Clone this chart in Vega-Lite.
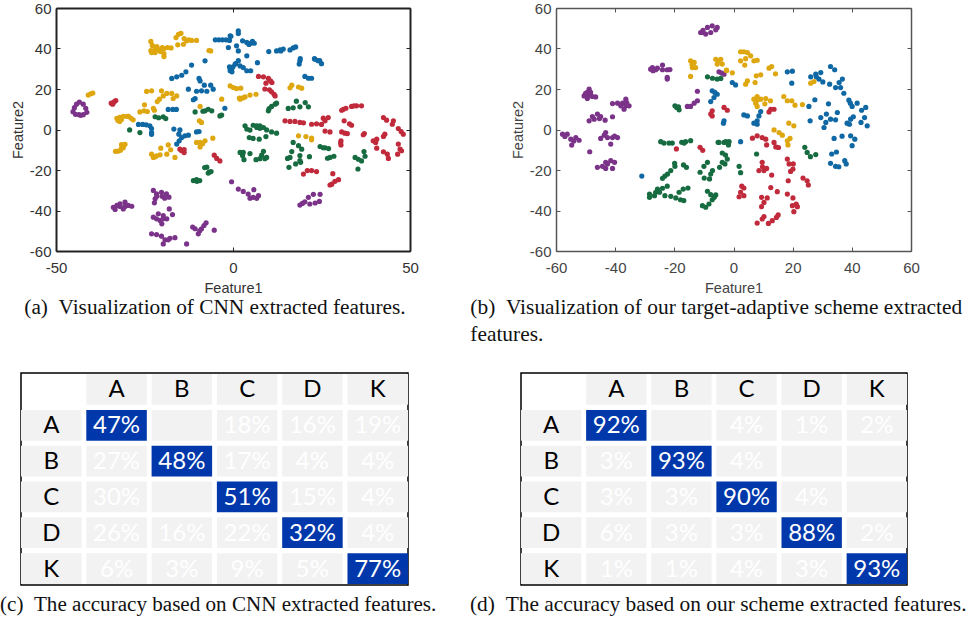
{"$schema":"https://vega.github.io/schema/vega-lite/v6.json","padding":{"left":-1,"top":1,"right":0,"bottom":0},"background":"white","datasets":{"pa":[
{"x":-43.4,"y":13.5,"k":"P"},{"x":-42.3,"y":12.5,"k":"P"},{"x":-41.6,"y":10.5,"k":"P"},{"x":-41.3,"y":8.5,"k":"P"},{"x":-42.3,"y":7.3,"k":"P"},{"x":-43.5,"y":7.3,"k":"P"},{"x":-44.5,"y":7.5,"k":"P"},{"x":-45.2,"y":8.8,"k":"P"},{"x":-44.8,"y":10.8,"k":"P"},{"x":-44.2,"y":12.5,"k":"P"},{"x":-43,"y":7,"k":"P"},
{"x":-40.9,"y":17,"k":"Y"},{"x":-40.2,"y":17.6,"k":"Y"},{"x":-39.6,"y":18,"k":"Y"},
{"x":-34.4,"y":13,"k":"R"},{"x":-33.9,"y":13,"k":"R"},{"x":-33.5,"y":13.8,"k":"R"},{"x":-33.1,"y":14.3,"k":"R"},{"x":-34,"y":12.5,"k":"R"},
{"x":-32.5,"y":4.5,"k":"Y"},{"x":-32.8,"y":5.5,"k":"Y"},{"x":-32,"y":6,"k":"Y"},{"x":-31,"y":6.5,"k":"Y"},{"x":-30,"y":6.5,"k":"Y"},{"x":-29.5,"y":6.5,"k":"Y"},{"x":-28.8,"y":5.5,"k":"Y"},{"x":-28.2,"y":4.8,"k":"Y"},{"x":-32,"y":4,"k":"Y"},{"x":-31.5,"y":5,"k":"Y"},
{"x":-29.2,"y":-0.2,"k":"G"},{"x":-26.3,"y":-1.5,"k":"G"},
{"x":-32.5,"y":-10.7,"k":"Y"},{"x":-31.8,"y":-10.3,"k":"Y"},{"x":-31.5,"y":-9.3,"k":"Y"},{"x":-31,"y":-8,"k":"Y"},{"x":-30.5,"y":-7.3,"k":"Y"},{"x":-31.5,"y":-7.5,"k":"Y"},{"x":-33.2,"y":-10.8,"k":"Y"},{"x":-31,"y":-9,"k":"Y"},
{"x":-23.2,"y":43.5,"k":"Y"},{"x":-22.8,"y":41.5,"k":"Y"},{"x":-22,"y":40,"k":"Y"},{"x":-23.2,"y":39,"k":"Y"},{"x":-23,"y":38,"k":"Y"},{"x":-22,"y":38,"k":"Y"},{"x":-21,"y":39.5,"k":"Y"},{"x":-20,"y":40.5,"k":"Y"},{"x":-20.5,"y":38.5,"k":"Y"},{"x":-19.5,"y":40,"k":"Y"},{"x":-18.5,"y":40.5,"k":"Y"},{"x":-17.5,"y":40.3,"k":"Y"},{"x":-19.5,"y":37.5,"k":"Y"},{"x":-19.5,"y":36,"k":"Y"},{"x":-21.5,"y":41,"k":"Y"},{"x":-22,"y":39,"k":"Y"},
{"x":-15.4,"y":47,"k":"Y"},{"x":-16.1,"y":45.4,"k":"Y"},{"x":-14.7,"y":47.5,"k":"Y"},{"x":-15.6,"y":41.8,"k":"Y"},{"x":-13.8,"y":44.9,"k":"Y"},{"x":-13.1,"y":43.8,"k":"Y"},{"x":-14,"y":42.1,"k":"Y"},{"x":-11.7,"y":44,"k":"Y"},{"x":-10.3,"y":44,"k":"Y"},{"x":-12.5,"y":44.3,"k":"Y"},{"x":-6.3,"y":38.8,"k":"Y"},{"x":-6.8,"y":39,"k":"Y"},
{"x":-5,"y":44.3,"k":"B"},{"x":-4,"y":44.3,"k":"B"},{"x":-3,"y":44.3,"k":"B"},{"x":-2,"y":44.3,"k":"B"},{"x":-1,"y":44,"k":"B"},{"x":-0.8,"y":46.3,"k":"B"},{"x":-1.3,"y":40.5,"k":"B"},{"x":1.5,"y":48.7,"k":"B"},{"x":1.5,"y":47.4,"k":"B"},{"x":-0.6,"y":46,"k":"B"},{"x":2.7,"y":43.8,"k":"B"},{"x":3.9,"y":43,"k":"B"},{"x":5,"y":42.6,"k":"B"},{"x":6,"y":42.6,"k":"B"},{"x":5.5,"y":43.5,"k":"B"},{"x":4.5,"y":42,"k":"B"},{"x":1,"y":41.3,"k":"B"},{"x":1.5,"y":38.8,"k":"B"},{"x":3.9,"y":36.4,"k":"B"},{"x":6.9,"y":33,"k":"B"},
{"x":-0.8,"y":30,"k":"B"},{"x":0,"y":31,"k":"B"},{"x":0.8,"y":32.5,"k":"B"},{"x":1.5,"y":34,"k":"B"},{"x":-0.8,"y":29,"k":"B"},{"x":2,"y":31.4,"k":"B"},{"x":2.9,"y":30.6,"k":"B"},{"x":3.9,"y":29,"k":"B"},{"x":5,"y":29,"k":"B"},{"x":-0.4,"y":29.8,"k":"B"},{"x":0.6,"y":32.3,"k":"B"},{"x":-0.3,"y":28.5,"k":"B"},{"x":-1,"y":31,"k":"B"},
{"x":10.1,"y":38.5,"k":"B"},{"x":12.3,"y":38.8,"k":"B"},{"x":13.3,"y":39.3,"k":"B"},{"x":14.2,"y":39.7,"k":"B"},{"x":13.5,"y":38.8,"k":"B"},{"x":16.1,"y":39.3,"k":"B"},{"x":17,"y":40.3,"k":"B"},{"x":17.7,"y":40.8,"k":"B"},{"x":18.9,"y":33.9,"k":"B"},{"x":18.7,"y":32.3,"k":"B"},{"x":19,"y":35,"k":"B"},{"x":23.2,"y":34.7,"k":"B"},{"x":24.5,"y":34,"k":"B"},{"x":25,"y":32.5,"k":"B"},{"x":24,"y":34,"k":"B"},{"x":23,"y":35,"k":"B"},{"x":20.3,"y":26.2,"k":"B"},{"x":21.3,"y":25.3,"k":"B"},{"x":22.2,"y":25.3,"k":"B"},
{"x":7.2,"y":26.2,"k":"R"},{"x":8.6,"y":26,"k":"R"},{"x":10,"y":25.2,"k":"R"},{"x":10.6,"y":24,"k":"R"},{"x":11,"y":23.2,"k":"R"},{"x":9.3,"y":22.9,"k":"R"},{"x":9,"y":20,"k":"R"},{"x":10.3,"y":19.6,"k":"R"},{"x":10.9,"y":18.6,"k":"R"},{"x":11.6,"y":17.4,"k":"R"},{"x":11.9,"y":16.6,"k":"R"},
{"x":16.6,"y":21.9,"k":"Y"},{"x":16.1,"y":20.6,"k":"Y"},{"x":18.5,"y":21,"k":"Y"},{"x":19.4,"y":20.4,"k":"Y"},{"x":0.1,"y":20.7,"k":"Y"},{"x":1,"y":20.2,"k":"Y"},{"x":2.2,"y":20.4,"k":"Y"},{"x":-0.8,"y":21.5,"k":"Y"},{"x":2,"y":15,"k":"Y"},{"x":2.8,"y":15.6,"k":"Y"},{"x":3.4,"y":16.1,"k":"Y"},{"x":4.8,"y":17,"k":"Y"},{"x":6.5,"y":17.4,"k":"Y"},
{"x":11.9,"y":12.5,"k":"G"},{"x":10.9,"y":11.4,"k":"G"},{"x":10,"y":9.2,"k":"G"},{"x":12.3,"y":13,"k":"G"},{"x":10.2,"y":10.3,"k":"G"},{"x":15.6,"y":10.4,"k":"G"},{"x":17,"y":10.7,"k":"G"},{"x":18.9,"y":11.2,"k":"G"},{"x":17.9,"y":14,"k":"G"},{"x":20.4,"y":13.3,"k":"G"},{"x":21.3,"y":11.2,"k":"G"},
{"x":31.2,"y":10,"k":"R"},{"x":30.7,"y":9.5,"k":"R"},{"x":31.9,"y":10.5,"k":"R"},{"x":33.5,"y":11.4,"k":"R"},{"x":34.9,"y":11.7,"k":"R"},{"x":36.3,"y":11.7,"k":"R"},{"x":34.2,"y":11.7,"k":"R"},
{"x":14.7,"y":4.3,"k":"R"},{"x":16.1,"y":4,"k":"R"},{"x":17.5,"y":4,"k":"R"},{"x":18.9,"y":3.5,"k":"R"},{"x":19.9,"y":3.3,"k":"R"},{"x":22.2,"y":2.6,"k":"R"},{"x":23.6,"y":2.8,"k":"R"},{"x":25,"y":2.5,"k":"R"},{"x":25.5,"y":5.6,"k":"R"},{"x":26.9,"y":5.9,"k":"R"},{"x":26,"y":4.3,"k":"R"},{"x":31.4,"y":4.3,"k":"R"},{"x":32.9,"y":2.8,"k":"R"},{"x":33.5,"y":2.1,"k":"R"},{"x":26,"y":-0.8,"k":"R"},{"x":27.4,"y":-1.2,"k":"R"},{"x":30.7,"y":-1.2,"k":"R"},{"x":31.6,"y":-1.8,"k":"R"},{"x":32.3,"y":-2,"k":"R"},{"x":30.5,"y":-5.6,"k":"R"},{"x":30.5,"y":-7.6,"k":"R"},{"x":30.4,"y":-6.5,"k":"R"},{"x":37.1,"y":-2,"k":"R"},{"x":36.8,"y":-2.6,"k":"R"},{"x":42.5,"y":5.9,"k":"R"},{"x":43.4,"y":4.6,"k":"R"},{"x":45.3,"y":4.3,"k":"R"},{"x":45,"y":2.6,"k":"R"},{"x":46.7,"y":0.5,"k":"R"},{"x":47.5,"y":-1,"k":"R"},{"x":48.1,"y":-2.3,"k":"R"},{"x":42.9,"y":-2.3,"k":"R"},{"x":42.5,"y":-3.4,"k":"R"},{"x":39.6,"y":-5.6,"k":"R"},{"x":40.6,"y":-4.8,"k":"R"},{"x":40.3,"y":-6.4,"k":"R"},{"x":40.6,"y":-9.2,"k":"R"},{"x":42.5,"y":-11,"k":"R"},{"x":43.6,"y":-12.2,"k":"R"},{"x":43.9,"y":-14.3,"k":"R"},{"x":46.7,"y":-7.2,"k":"R"},{"x":47.2,"y":-9.7,"k":"R"},{"x":46.5,"y":-12.2,"k":"R"},{"x":47.6,"y":-10.5,"k":"R"},
{"x":18.5,"y":-3.1,"k":"Y"},{"x":20.6,"y":-3.5,"k":"Y"},{"x":22.2,"y":-5.1,"k":"Y"},{"x":22.2,"y":-4.3,"k":"Y"},
{"x":17,"y":-6.4,"k":"G"},{"x":18.5,"y":-8,"k":"G"},{"x":19.4,"y":-9.7,"k":"G"},{"x":24.6,"y":-8.4,"k":"G"},{"x":26,"y":-9,"k":"G"},{"x":27,"y":-9.4,"k":"G"},{"x":25.5,"y":-9,"k":"G"},
{"x":3.4,"y":1.8,"k":"G"},{"x":3.9,"y":0.2,"k":"G"},{"x":4.8,"y":-0.3,"k":"G"},{"x":5.7,"y":2.1,"k":"G"},{"x":6.7,"y":1.8,"k":"G"},{"x":7.6,"y":1.8,"k":"G"},{"x":8.6,"y":1,"k":"G"},{"x":9.5,"y":-0.2,"k":"G"},{"x":10.9,"y":-1.2,"k":"G"},{"x":12.3,"y":-1.8,"k":"G"},{"x":7.6,"y":0.6,"k":"G"},{"x":6.7,"y":1,"k":"G"},
{"x":4.6,"y":-4,"k":"G"},{"x":5.7,"y":-4.4,"k":"G"},{"x":7.4,"y":-4.8,"k":"G"},{"x":9.3,"y":-3.5,"k":"G"},
{"x":2.9,"y":-11.3,"k":"G"},{"x":2,"y":-11.3,"k":"G"},{"x":2.7,"y":-12.9,"k":"G"},{"x":3.1,"y":-14.9,"k":"G"},{"x":4.8,"y":-11.9,"k":"G"},{"x":6.5,"y":-14.9,"k":"G"},{"x":8.6,"y":-10.8,"k":"G"},{"x":8.1,"y":-12.7,"k":"G"},{"x":7.6,"y":-14.4,"k":"G"},{"x":9,"y":-14.4,"k":"G"},{"x":9.5,"y":-13.8,"k":"G"},
{"x":16.6,"y":-10.9,"k":"G"},{"x":16.1,"y":-13.8,"k":"G"},{"x":15.4,"y":-14.3,"k":"G"},{"x":18.9,"y":-12.9,"k":"G"},{"x":18.9,"y":-15.4,"k":"G"},{"x":19.1,"y":-16.2,"k":"G"},{"x":17.7,"y":-17,"k":"G"},{"x":15.8,"y":-18.7,"k":"G"},{"x":21.6,"y":-13.4,"k":"G"},{"x":26.7,"y":-14.2,"k":"G"},{"x":27.4,"y":-13.8,"k":"G"},{"x":28.5,"y":-13.2,"k":"G"},{"x":34.5,"y":-13.8,"k":"G"},{"x":35.4,"y":-14.7,"k":"G"},{"x":36.3,"y":-15.5,"k":"G"},{"x":37.3,"y":-13.2,"k":"G"},{"x":37,"y":-10.9,"k":"G"},{"x":35.3,"y":-19.5,"k":"G"},
{"x":19.9,"y":-22,"k":"R"},{"x":21,"y":-20.3,"k":"R"},{"x":22.2,"y":-20.3,"k":"R"},{"x":23.6,"y":-20.8,"k":"R"},{"x":28.2,"y":-21.8,"k":"R"},{"x":29.8,"y":-24.8,"k":"R"},{"x":28.8,"y":-25.6,"k":"R"},{"x":27.9,"y":-27,"k":"R"},{"x":27.4,"y":-27.4,"k":"R"},
{"x":-0.4,"y":-25.8,"k":"P"},{"x":1.5,"y":-29.4,"k":"P"},{"x":2.9,"y":-30.6,"k":"P"},{"x":4.3,"y":-31.9,"k":"P"},{"x":5.7,"y":-33.5,"k":"P"},{"x":7.2,"y":-32.7,"k":"P"},{"x":5.9,"y":-29.7,"k":"P"},{"x":4.8,"y":-33.9,"k":"P"},{"x":6.7,"y":-34,"k":"P"},
{"x":18.9,"y":-37.3,"k":"P"},{"x":20.3,"y":-35.7,"k":"P"},{"x":21.3,"y":-33.5,"k":"P"},{"x":22.7,"y":-32,"k":"P"},{"x":24.6,"y":-32,"k":"P"},{"x":21.7,"y":-36.8,"k":"P"},{"x":23.2,"y":-36.3,"k":"P"},{"x":24.4,"y":-35.5,"k":"P"},{"x":19.6,"y":-36.5,"k":"P"},
{"x":-24.4,"y":18.8,"k":"Y"},{"x":-23,"y":19.1,"k":"Y"},{"x":-20.2,"y":19.1,"k":"Y"},{"x":-18.7,"y":17.8,"k":"Y"},{"x":-17.3,"y":17.8,"k":"Y"},{"x":-19.7,"y":16.6,"k":"Y"},{"x":-20.8,"y":15,"k":"Y"},{"x":-21.4,"y":13.8,"k":"Y"},{"x":-15.9,"y":16.6,"k":"Y"},{"x":-16.9,"y":15.3,"k":"Y"},{"x":-25,"y":12.2,"k":"Y"},{"x":-22.5,"y":10.5,"k":"Y"},{"x":-22.2,"y":9.5,"k":"Y"},{"x":-26.3,"y":8.7,"k":"Y"},{"x":-25.1,"y":9.2,"k":"Y"},{"x":-24.2,"y":8.9,"k":"Y"},
{"x":-18.3,"y":9.9,"k":"B"},{"x":-17,"y":9.9,"k":"B"},{"x":-16,"y":9.9,"k":"B"},{"x":-17.3,"y":25.2,"k":"B"},{"x":-15.9,"y":26,"k":"B"},{"x":-14.5,"y":26.8,"k":"B"},{"x":-13.3,"y":28.5,"k":"B"},{"x":-11.7,"y":31.8,"k":"B"},{"x":-7.9,"y":33.9,"k":"B"},{"x":-12.6,"y":19.9,"k":"B"},{"x":-10.3,"y":18.9,"k":"B"},{"x":-8.9,"y":19.1,"k":"B"},{"x":-7.4,"y":18.9,"k":"B"},{"x":-9.6,"y":25.2,"k":"B"},{"x":-9.3,"y":24,"k":"B"},{"x":-8.1,"y":21.9,"k":"B"},{"x":-6.3,"y":21.9,"k":"B"},{"x":-5.6,"y":19.9,"k":"B"},{"x":-10.7,"y":15.3,"k":"B"},{"x":-11.2,"y":14.7,"k":"B"},{"x":-2.3,"y":10.5,"k":"B"},
{"x":-3.2,"y":15,"k":"Y"},{"x":-9.3,"y":11.4,"k":"Y"},{"x":-9.5,"y":4.3,"k":"Y"},{"x":-8.9,"y":3.5,"k":"Y"},{"x":1.8,"y":15.5,"k":"Y"},
{"x":-10.7,"y":8.7,"k":"G"},{"x":-7.9,"y":9.2,"k":"G"},{"x":-7,"y":10,"k":"G"},{"x":-6,"y":9.2,"k":"G"},{"x":-8.5,"y":9,"k":"G"},{"x":-3.7,"y":6.7,"k":"G"},{"x":-3.2,"y":7.1,"k":"G"},{"x":-22,"y":6.3,"k":"G"},{"x":-21,"y":5.8,"k":"G"},{"x":-19.7,"y":6.3,"k":"G"},{"x":-19,"y":5.4,"k":"G"},
{"x":-26.7,"y":2.5,"k":"B"},{"x":-25.5,"y":2.5,"k":"B"},{"x":-24.5,"y":2.3,"k":"B"},{"x":-23.5,"y":1.8,"k":"B"},{"x":-23,"y":0.5,"k":"B"},{"x":-23,"y":-1.5,"k":"B"},{"x":-23,"y":-2.4,"k":"B"},
{"x":-16.7,"y":0.2,"k":"B"},{"x":-15,"y":-0.2,"k":"B"},{"x":-15.3,"y":-2.3,"k":"B"},{"x":-14.5,"y":-4,"k":"B"},{"x":-13.6,"y":-3.1,"k":"B"},{"x":-12.6,"y":-2.8,"k":"B"},{"x":-15.2,"y":-5.6,"k":"B"},{"x":-15.9,"y":-7.2,"k":"B"},{"x":-10.3,"y":-1.2,"k":"B"},{"x":-9.6,"y":-1,"k":"B"},
{"x":-10.3,"y":-6.4,"k":"Y"},{"x":-9.3,"y":-6.4,"k":"Y"},{"x":-7.9,"y":-5.6,"k":"Y"},{"x":-9.3,"y":-8.6,"k":"Y"},{"x":-8.6,"y":-7,"k":"Y"},{"x":-5.7,"y":-4.3,"k":"Y"},
{"x":-14.5,"y":-10.5,"k":"R"},{"x":-15,"y":-9.7,"k":"R"},{"x":-13.8,"y":-11.4,"k":"R"},{"x":-13.8,"y":-9.9,"k":"R"},{"x":-5.3,"y":-12.7,"k":"R"},{"x":-4.6,"y":-14.3,"k":"R"},{"x":-3.7,"y":-15.5,"k":"R"},
{"x":-23,"y":-12.2,"k":"Y"},{"x":-21.6,"y":-13,"k":"Y"},{"x":-20.6,"y":-12.5,"k":"Y"},{"x":-22.5,"y":-13.8,"k":"Y"},{"x":-18.7,"y":-12.2,"k":"Y"},{"x":-20.4,"y":-9.2,"k":"Y"},{"x":-18.3,"y":-7.6,"k":"Y"},{"x":-17.6,"y":-10,"k":"Y"},{"x":-16.4,"y":-13.8,"k":"Y"},{"x":-22,"y":-13.5,"k":"Y"},
{"x":-7.4,"y":-18.6,"k":"G"},{"x":-8,"y":-18.8,"k":"G"},{"x":-6.7,"y":-21,"k":"G"},{"x":-6.2,"y":-20.8,"k":"G"},{"x":-7,"y":-21.5,"k":"G"},{"x":-11.2,"y":-25.2,"k":"G"},{"x":-10.3,"y":-24.7,"k":"G"},{"x":-9.4,"y":-25.2,"k":"G"},{"x":-10.2,"y":-25.6,"k":"G"},
{"x":-22.5,"y":-30.1,"k":"P"},{"x":-21.6,"y":-31.8,"k":"P"},{"x":-20.2,"y":-31,"k":"P"},{"x":-18.8,"y":-31.8,"k":"P"},{"x":-18.1,"y":-33.4,"k":"P"},{"x":-19.3,"y":-33.9,"k":"P"},{"x":-22,"y":-34.2,"k":"P"},{"x":-22.2,"y":-36.2,"k":"P"},{"x":-21.5,"y":-33,"k":"P"},{"x":-20,"y":-33,"k":"P"},
{"x":-33.8,"y":-38.4,"k":"P"},{"x":-32.8,"y":-37.5,"k":"P"},{"x":-31.9,"y":-36.7,"k":"P"},{"x":-30.5,"y":-35.9,"k":"P"},{"x":-31,"y":-39.2,"k":"P"},{"x":-29.6,"y":-37.5,"k":"P"},{"x":-28.6,"y":-37.9,"k":"P"},{"x":-31.9,"y":-38,"k":"P"},{"x":-33.3,"y":-39.5,"k":"P"},{"x":-30.5,"y":-38,"k":"P"},
{"x":-22.5,"y":-43.3,"k":"P"},{"x":-21.1,"y":-41.6,"k":"P"},{"x":-19.7,"y":-42.5,"k":"P"},{"x":-18.7,"y":-44.1,"k":"P"},{"x":-20.6,"y":-44.9,"k":"P"},{"x":-19.7,"y":-44.1,"k":"P"},{"x":-21.6,"y":-44.1,"k":"P"},{"x":-20.1,"y":-46.6,"k":"P"},{"x":-18,"y":-39.2,"k":"P"},{"x":-17.1,"y":-42,"k":"P"},
{"x":-23,"y":-51.5,"k":"P"},{"x":-21.6,"y":-51.9,"k":"P"},{"x":-20.2,"y":-52.7,"k":"P"},{"x":-19.2,"y":-54.5,"k":"P"},{"x":-19.7,"y":-56.5,"k":"P"},{"x":-17.8,"y":-53.7,"k":"P"},{"x":-16.4,"y":-53.4,"k":"P"},{"x":-18.3,"y":-54.5,"k":"P"},{"x":-13.1,"y":-56.5,"k":"P"},
{"x":-11.4,"y":-48.2,"k":"P"},{"x":-10.7,"y":-49,"k":"P"},{"x":-9.8,"y":-51.5,"k":"P"},{"x":-8.9,"y":-49,"k":"P"},{"x":-8.2,"y":-47.4,"k":"P"},{"x":-7.6,"y":-46.1,"k":"P"},{"x":-5.3,"y":-49.7,"k":"P"},{"x":-9.4,"y":-50,"k":"P"}
],"pb":[
{"x":-10.5,"y":47.9,"k":"P"},{"x":-9.4,"y":47.1,"k":"P"},{"x":-7.7,"y":47.9,"k":"P"},{"x":-6,"y":49.2,"k":"P"},{"x":-5.5,"y":50.4,"k":"P"},{"x":-7.2,"y":51.2,"k":"P"},{"x":-8.8,"y":50.4,"k":"P"},{"x":-10.3,"y":49,"k":"P"},{"x":-11.1,"y":47.9,"k":"P"},
{"x":-27.4,"y":30.6,"k":"P"},{"x":-26.3,"y":29.5,"k":"P"},{"x":-28,"y":29.8,"k":"P"},{"x":-27.2,"y":29,"k":"P"},{"x":-24,"y":31.8,"k":"P"},{"x":-24,"y":29.5,"k":"P"},{"x":-22.4,"y":29.5,"k":"P"},{"x":-21.5,"y":29.6,"k":"P"},{"x":-22.4,"y":25.7,"k":"P"},{"x":-22.4,"y":24.9,"k":"P"},{"x":-25.7,"y":30.3,"k":"P"},
{"x":-49.4,"y":18.3,"k":"P"},{"x":-48.8,"y":19.9,"k":"P"},{"x":-50.5,"y":16.6,"k":"P"},{"x":-49.4,"y":15.3,"k":"P"},{"x":-47.7,"y":16.3,"k":"P"},{"x":-46.6,"y":16.1,"k":"P"},{"x":-48.3,"y":18.3,"k":"P"},{"x":-49,"y":16.6,"k":"P"},{"x":-50,"y":17.8,"k":"P"},
{"x":-40.9,"y":12.8,"k":"P"},{"x":-39.2,"y":13,"k":"P"},{"x":-36.4,"y":15,"k":"P"},{"x":-36.1,"y":13.3,"k":"P"},{"x":-35.3,"y":11.7,"k":"P"},{"x":-37,"y":10,"k":"P"},{"x":-38.1,"y":11.7,"k":"P"},{"x":-36.4,"y":11.7,"k":"P"},{"x":-37.5,"y":13,"k":"P"},
{"x":-48.8,"y":4.3,"k":"P"},{"x":-47.7,"y":6.4,"k":"P"},{"x":-46,"y":7.6,"k":"P"},{"x":-44.9,"y":6.4,"k":"P"},{"x":-43.4,"y":4.6,"k":"P"},{"x":-47.1,"y":5.1,"k":"P"},{"x":-45.3,"y":5.4,"k":"P"},{"x":-40.9,"y":6.3,"k":"P"},
{"x":-57.8,"y":-2.3,"k":"P"},{"x":-56.2,"y":-2.3,"k":"P"},{"x":-55,"y":-4.8,"k":"P"},{"x":-53.3,"y":-4,"k":"P"},{"x":-52.2,"y":-5.3,"k":"P"},{"x":-54.7,"y":-7.7,"k":"P"},{"x":-57,"y":-3.4,"k":"P"},{"x":-54,"y":-5.7,"k":"P"},
{"x":-43.2,"y":-1.5,"k":"P"},{"x":-44.9,"y":-4.4,"k":"P"},{"x":-42.6,"y":-4,"k":"P"},{"x":-40.9,"y":-4,"k":"P"},{"x":-39.2,"y":-4,"k":"P"},{"x":-41.5,"y":-7.2,"k":"P"},{"x":-43.7,"y":-2.8,"k":"P"},{"x":-40.2,"y":-3.2,"k":"P"},{"x":-48.6,"y":-11,"k":"P"},
{"x":-43.2,"y":-16.2,"k":"P"},{"x":-41.5,"y":-15.4,"k":"P"},{"x":-40.2,"y":-16.2,"k":"P"},{"x":-46,"y":-18.7,"k":"P"},{"x":-44.3,"y":-18.2,"k":"P"},{"x":-43.2,"y":-19.2,"k":"P"},{"x":-40.9,"y":-19.2,"k":"P"},{"x":-42.6,"y":-17,"k":"P"},
{"x":-31,"y":-23,"k":"B"},
{"x":-24.6,"y":-6,"k":"G"},{"x":-23.5,"y":-6.7,"k":"G"},{"x":-21.8,"y":-6.7,"k":"G"},{"x":-20.7,"y":-6.7,"k":"G"},{"x":-17.5,"y":-6.3,"k":"G"},{"x":-16.2,"y":-6,"k":"G"},{"x":-14.5,"y":-5.5,"k":"G"},{"x":-16.7,"y":-6.7,"k":"G"},
{"x":-19.3,"y":-9.6,"k":"R"},{"x":-11.3,"y":-8.8,"k":"R"},{"x":-10.4,"y":-10.3,"k":"R"},
{"x":-19.9,"y":-16.7,"k":"G"},{"x":-19.8,"y":-18.2,"k":"G"},{"x":-21.2,"y":-20.3,"k":"G"},{"x":-22.3,"y":-22,"k":"G"},{"x":-24,"y":-24.1,"k":"G"},{"x":-23.2,"y":-23,"k":"G"},{"x":-16.9,"y":-17.5,"k":"G"},{"x":-15.9,"y":-18.7,"k":"G"},
{"x":-8.8,"y":-16.2,"k":"G"},{"x":-10,"y":-18.2,"k":"G"},{"x":-11.3,"y":-21.1,"k":"G"},{"x":-7.1,"y":-20.3,"k":"G"},{"x":-7.7,"y":-22,"k":"G"},{"x":-9.9,"y":-24,"k":"G"},{"x":-8.1,"y":-24.4,"k":"G"},
{"x":-3.8,"y":-11.6,"k":"G"},{"x":-2.7,"y":-12.6,"k":"G"},{"x":-3.8,"y":-16.2,"k":"G"},{"x":-4.7,"y":-18.7,"k":"G"},{"x":-2.9,"y":-17,"k":"G"},{"x":-2.1,"y":-14.6,"k":"G"},{"x":-5.2,"y":-6.3,"k":"G"},{"x":-2.6,"y":-6,"k":"G"},
{"x":-22.4,"y":-28,"k":"G"},{"x":-24,"y":-29,"k":"G"},{"x":-25.7,"y":-29.4,"k":"G"},{"x":-26.3,"y":-31,"k":"G"},{"x":-28.4,"y":-31.9,"k":"G"},{"x":-28.4,"y":-33.5,"k":"G"},{"x":-26.7,"y":-32.7,"k":"G"},{"x":-25,"y":-31,"k":"G"},
{"x":-23.2,"y":-32.7,"k":"G"},{"x":-21.2,"y":-33,"k":"G"},{"x":-19.5,"y":-33.8,"k":"G"},{"x":-17.9,"y":-34.7,"k":"G"},{"x":-16.8,"y":-35.1,"k":"G"},{"x":-18.4,"y":-31,"k":"G"},{"x":-17,"y":-29.4,"k":"G"},{"x":-15.4,"y":-28.9,"k":"G"},
{"x":-8.8,"y":-30.5,"k":"G"},{"x":-7.7,"y":-32.2,"k":"G"},{"x":-6,"y":-32.3,"k":"G"},{"x":-7.2,"y":-34.7,"k":"G"},{"x":-8.3,"y":-36.8,"k":"G"},{"x":-10.5,"y":-37.6,"k":"G"},{"x":-9.4,"y":-38.4,"k":"G"},{"x":-6.5,"y":-33.5,"k":"G"},
{"x":-14.5,"y":33.9,"k":"Y"},{"x":-13.3,"y":33.1,"k":"Y"},{"x":-12.8,"y":30.6,"k":"Y"},{"x":-13.9,"y":30.6,"k":"Y"},{"x":-14.5,"y":26.2,"k":"Y"},{"x":-14,"y":32,"k":"Y"},{"x":-6,"y":34.7,"k":"Y"},{"x":-4.3,"y":34.7,"k":"Y"},{"x":-3.8,"y":32.3,"k":"Y"},{"x":-5.5,"y":32.3,"k":"Y"},{"x":-5,"y":33.9,"k":"Y"},
{"x":-4.9,"y":28.5,"k":"P"},{"x":-3.2,"y":27.3,"k":"P"},{"x":-4,"y":27.9,"k":"P"},{"x":-2.3,"y":29.1,"k":"Y"},
{"x":-8.8,"y":26,"k":"G"},{"x":-7.1,"y":25.3,"k":"G"},{"x":-5.5,"y":24.9,"k":"G"},{"x":-4.3,"y":25.2,"k":"G"},
{"x":-12.2,"y":18.9,"k":"P"},{"x":-12.2,"y":14.2,"k":"P"},{"x":-13.3,"y":13,"k":"P"},{"x":-14.5,"y":11.4,"k":"P"},{"x":-15.6,"y":11.4,"k":"P"},
{"x":-7.2,"y":19.1,"k":"B"},{"x":-5.5,"y":17.4,"k":"B"},{"x":-6.6,"y":15.8,"k":"B"},{"x":-7.7,"y":13.8,"k":"B"},{"x":-6.3,"y":18.3,"k":"B"},
{"x":-19.2,"y":10.9,"k":"G"},{"x":-19.8,"y":11.7,"k":"G"},{"x":-18.4,"y":9.7,"k":"G"},{"x":-18.6,"y":11.2,"k":"G"},
{"x":-7.2,"y":9.2,"k":"R"},{"x":-7.2,"y":6.7,"k":"R"},{"x":-7.7,"y":7.6,"k":"R"},{"x":-3.2,"y":10.9,"k":"R"},{"x":-2.1,"y":9.5,"k":"R"},{"x":-3.4,"y":3.1,"k":"B"},{"x":-3.2,"y":4.3,"k":"B"},
{"x":2.4,"y":38.4,"k":"Y"},{"x":4.7,"y":38,"k":"Y"},{"x":5.8,"y":36.4,"k":"Y"},{"x":6.9,"y":33.9,"k":"Y"},{"x":8,"y":34.2,"k":"Y"},{"x":2.4,"y":33.9,"k":"Y"},{"x":4.1,"y":35,"k":"Y"},{"x":3.8,"y":31.8,"k":"Y"},{"x":3.5,"y":38.4,"k":"Y"},
{"x":-2.4,"y":29.3,"k":"Y"},{"x":-0.4,"y":28,"k":"Y"},{"x":-0.4,"y":23.2,"k":"B"},{"x":0.7,"y":22,"k":"B"},
{"x":4.7,"y":24,"k":"Y"},{"x":4.1,"y":22.4,"k":"Y"},{"x":7.3,"y":23.2,"k":"Y"},{"x":7.7,"y":26.5,"k":"Y"},{"x":9.2,"y":27,"k":"Y"},{"x":12,"y":30.3,"k":"Y"},{"x":12.9,"y":31.1,"k":"Y"},{"x":14.2,"y":27.5,"k":"Y"},
{"x":18.2,"y":28.5,"k":"B"},{"x":19.9,"y":28.8,"k":"B"},{"x":19.7,"y":22.9,"k":"B"},{"x":26.1,"y":26,"k":"B"},{"x":27.8,"y":27.3,"k":"B"},{"x":29.5,"y":28.1,"k":"B"},{"x":28.9,"y":24.9,"k":"B"},{"x":30.2,"y":23.5,"k":"B"},{"x":32.8,"y":31.1,"k":"B"},{"x":34.2,"y":29.5,"k":"B"},{"x":28,"y":26,"k":"B"},
{"x":26.1,"y":22.9,"k":"Y"},{"x":27.2,"y":23.7,"k":"Y"},
{"x":32.5,"y":22.4,"k":"B"},{"x":34.5,"y":20.7,"k":"B"},{"x":35.7,"y":23.2,"k":"B"},{"x":36.8,"y":24.9,"k":"B"},{"x":36.2,"y":20.7,"k":"B"},{"x":37.3,"y":17.9,"k":"B"},{"x":39,"y":14.5,"k":"B"},{"x":40.1,"y":11.4,"k":"B"},{"x":41.8,"y":13,"k":"B"},{"x":43.3,"y":9.5,"k":"B"},{"x":44.7,"y":10.9,"k":"B"},{"x":39.5,"y":13,"k":"B"},{"x":27.5,"y":14.7,"k":"B"},{"x":25.5,"y":11.4,"k":"B"},{"x":32.1,"y":12.7,"k":"B"},
{"x":29.5,"y":5.9,"k":"B"},{"x":31.4,"y":7.6,"k":"B"},{"x":31.2,"y":3.5,"k":"B"},{"x":30.6,"y":1,"k":"B"},{"x":32.8,"y":5.1,"k":"B"},{"x":34.5,"y":4.8,"k":"B"},{"x":35.1,"y":8.4,"k":"B"},{"x":25.9,"y":4.3,"k":"B"},{"x":38.4,"y":3.1,"k":"B"},{"x":39.6,"y":5.1,"k":"B"},{"x":40.5,"y":6.3,"k":"B"},{"x":39.2,"y":2.6,"k":"B"},{"x":44.3,"y":5.9,"k":"B"},{"x":43.1,"y":3.5,"k":"B"},{"x":45.2,"y":1.8,"k":"B"},{"x":3.5,"y":7.2,"k":"B"},{"x":4.7,"y":6.7,"k":"B"},{"x":9.2,"y":8.9,"k":"B"},{"x":8.6,"y":6.7,"k":"B"},{"x":8,"y":4.3,"k":"B"},{"x":6.9,"y":3.1,"k":"B"},{"x":8,"y":2.6,"k":"B"},
{"x":6.9,"y":15,"k":"Y"},{"x":8,"y":16.3,"k":"Y"},{"x":9.2,"y":15,"k":"Y"},{"x":7.5,"y":13,"k":"Y"},{"x":8,"y":11.4,"k":"Y"},{"x":10.9,"y":15.3,"k":"Y"},{"x":12.5,"y":14.2,"k":"Y"},{"x":10.6,"y":12.7,"k":"Y"},{"x":8,"y":14.5,"k":"Y"},
{"x":12.6,"y":10,"k":"R"},{"x":12,"y":8.7,"k":"R"},{"x":13.7,"y":10,"k":"R"},
{"x":17,"y":16.3,"k":"Y"},{"x":18.2,"y":14.2,"k":"Y"},{"x":19.7,"y":14.2,"k":"Y"},{"x":20.8,"y":12,"k":"Y"},{"x":23.3,"y":12.3,"k":"Y"},{"x":18.7,"y":3.1,"k":"Y"},{"x":20.4,"y":1.8,"k":"Y"},{"x":13.7,"y":-0.2,"k":"Y"},{"x":15.4,"y":-1.5,"k":"Y"},{"x":16.5,"y":-2.8,"k":"Y"},{"x":19.1,"y":-4.4,"k":"Y"},{"x":18.2,"y":-5.6,"k":"Y"},{"x":18.4,"y":-7.6,"k":"Y"},
{"x":6.4,"y":-4.3,"k":"R"},{"x":8,"y":-3.1,"k":"R"},{"x":9.7,"y":-4,"k":"R"},{"x":10.9,"y":-4.8,"k":"R"},{"x":11.2,"y":-7.6,"k":"R"},{"x":13.7,"y":-6.4,"k":"R"},{"x":14.3,"y":-8.6,"k":"R"},{"x":15.2,"y":-8.9,"k":"R"},
{"x":2.4,"y":-6,"k":"B"},
{"x":-3.2,"y":-6.4,"k":"G"},{"x":-1.5,"y":-6,"k":"G"},{"x":-1.7,"y":-7.6,"k":"G"},{"x":-4.9,"y":-6.4,"k":"G"},
{"x":34,"y":-4.4,"k":"B"},{"x":36.7,"y":-3.3,"k":"B"},{"x":39.6,"y":-3.1,"k":"B"},{"x":41,"y":-4.8,"k":"B"},{"x":40.1,"y":-8,"k":"B"},
{"x":24.1,"y":-8.8,"k":"G"},{"x":24.9,"y":-11.3,"k":"G"},{"x":26,"y":-13.4,"k":"G"},{"x":27.8,"y":-12.4,"k":"G"},
{"x":33.2,"y":-12.1,"k":"B"},{"x":34.8,"y":-11.1,"k":"B"},{"x":32.8,"y":-16.7,"k":"B"},{"x":34.5,"y":-18.2,"k":"B"},{"x":35.6,"y":-18.4,"k":"B"},{"x":37.6,"y":-15.4,"k":"B"},{"x":38.1,"y":-17,"k":"B"},
{"x":7.8,"y":-12.1,"k":"G"},{"x":1.9,"y":-18.2,"k":"G"},{"x":2.4,"y":-21.3,"k":"G"},
{"x":9.7,"y":-16.2,"k":"R"},{"x":8.6,"y":-20.3,"k":"R"},{"x":10.3,"y":-20.3,"k":"R"},{"x":11.2,"y":-19.2,"k":"R"},{"x":9.8,"y":-18.4,"k":"R"},{"x":12.9,"y":-22.5,"k":"R"},{"x":18.2,"y":-14.6,"k":"R"},{"x":18.8,"y":-17,"k":"R"},{"x":20.2,"y":-17,"k":"R"},{"x":19.3,"y":-20.7,"k":"R"},{"x":20.1,"y":-19.5,"k":"R"},{"x":18.5,"y":-25.3,"k":"R"},{"x":23.5,"y":-24,"k":"R"},{"x":24.9,"y":-25.3,"k":"R"},{"x":25.3,"y":-27.4,"k":"R"},
{"x":12.6,"y":-28.7,"k":"R"},{"x":14.8,"y":-30.7,"k":"R"},{"x":18.2,"y":-31.9,"k":"R"},{"x":20.1,"y":-33.8,"k":"R"},{"x":21.6,"y":-38.1,"k":"R"},{"x":19.9,"y":-37.6,"k":"R"},{"x":20.4,"y":-40.6,"k":"R"},{"x":21.2,"y":-36.8,"k":"R"},
{"x":2.8,"y":-28,"k":"R"},{"x":3.5,"y":-28.9,"k":"R"},{"x":2.4,"y":-31,"k":"R"},{"x":1.9,"y":-33.2,"k":"R"},{"x":3.5,"y":-32.7,"k":"R"},{"x":9.5,"y":-33.5,"k":"R"},{"x":11.4,"y":-33.8,"k":"R"},{"x":10.3,"y":-36,"k":"R"},{"x":9.5,"y":-38.1,"k":"R"},
{"x":8,"y":-46.2,"k":"R"},{"x":9.7,"y":-44.2,"k":"R"},{"x":10.3,"y":-43,"k":"R"},{"x":11.8,"y":-46.4,"k":"R"},{"x":13.1,"y":-45,"k":"R"},{"x":14.5,"y":-43.4,"k":"R"},{"x":15.1,"y":-42.2,"k":"R"}
],"tc":[
{"r":"_","c":"A","v":"A","k":"head"},{"r":"_","c":"B","v":"B","k":"head"},{"r":"_","c":"C","v":"C","k":"head"},{"r":"_","c":"D","v":"D","k":"head"},{"r":"_","c":"K","v":"K","k":"head"},
{"r":"A","c":"_","v":"A","k":"head"},{"r":"A","c":"A","v":"47%","k":"on"},{"r":"A","c":"B","v":"","k":"off"},{"r":"A","c":"C","v":"18%","k":"off"},{"r":"A","c":"D","v":"16%","k":"off"},{"r":"A","c":"K","v":"19%","k":"off"},
{"r":"B","c":"_","v":"B","k":"head"},{"r":"B","c":"A","v":"27%","k":"off"},{"r":"B","c":"B","v":"48%","k":"on"},{"r":"B","c":"C","v":"17%","k":"off"},{"r":"B","c":"D","v":"4%","k":"off"},{"r":"B","c":"K","v":"4%","k":"off"},
{"r":"C","c":"_","v":"C","k":"head"},{"r":"C","c":"A","v":"30%","k":"off"},{"r":"C","c":"B","v":"","k":"off"},{"r":"C","c":"C","v":"51%","k":"on"},{"r":"C","c":"D","v":"15%","k":"off"},{"r":"C","c":"K","v":"4%","k":"off"},
{"r":"D","c":"_","v":"D","k":"head"},{"r":"D","c":"A","v":"26%","k":"off"},{"r":"D","c":"B","v":"16%","k":"off"},{"r":"D","c":"C","v":"22%","k":"off"},{"r":"D","c":"D","v":"32%","k":"on"},{"r":"D","c":"K","v":"4%","k":"off"},
{"r":"K","c":"_","v":"K","k":"head"},{"r":"K","c":"A","v":"6%","k":"off"},{"r":"K","c":"B","v":"3%","k":"off"},{"r":"K","c":"C","v":"9%","k":"off"},{"r":"K","c":"D","v":"5%","k":"off"},{"r":"K","c":"K","v":"77%","k":"on"}
],"td":[
{"r":"_","c":"A","v":"A","k":"head"},{"r":"_","c":"B","v":"B","k":"head"},{"r":"_","c":"C","v":"C","k":"head"},{"r":"_","c":"D","v":"D","k":"head"},{"r":"_","c":"K","v":"K","k":"head"},
{"r":"A","c":"_","v":"A","k":"head"},{"r":"A","c":"A","v":"92%","k":"on"},{"r":"A","c":"B","v":"","k":"off"},{"r":"A","c":"C","v":"4%","k":"off"},{"r":"A","c":"D","v":"1%","k":"off"},{"r":"A","c":"K","v":"2%","k":"off"},
{"r":"B","c":"_","v":"B","k":"head"},{"r":"B","c":"A","v":"3%","k":"off"},{"r":"B","c":"B","v":"93%","k":"on"},{"r":"B","c":"C","v":"4%","k":"off"},{"r":"B","c":"D","v":"","k":"off"},{"r":"B","c":"K","v":"","k":"off"},
{"r":"C","c":"_","v":"C","k":"head"},{"r":"C","c":"A","v":"3%","k":"off"},{"r":"C","c":"B","v":"3%","k":"off"},{"r":"C","c":"C","v":"90%","k":"on"},{"r":"C","c":"D","v":"4%","k":"off"},{"r":"C","c":"K","v":"","k":"off"},
{"r":"D","c":"_","v":"D","k":"head"},{"r":"D","c":"A","v":"6%","k":"off"},{"r":"D","c":"B","v":"3%","k":"off"},{"r":"D","c":"C","v":"3%","k":"off"},{"r":"D","c":"D","v":"88%","k":"on"},{"r":"D","c":"K","v":"2%","k":"off"},
{"r":"K","c":"_","v":"K","k":"head"},{"r":"K","c":"A","v":"1%","k":"off"},{"r":"K","c":"B","v":"1%","k":"off"},{"r":"K","c":"C","v":"4%","k":"off"},{"r":"K","c":"D","v":"3%","k":"off"},{"r":"K","c":"K","v":"93%","k":"on"}
]},
"concat":[
{"title":{"text":"(a)\u00a0\u00a0Visualization of CNN extracted features.","orient":"bottom","anchor":"start","dx":14,"offset":2,"font":"Liberation Serif","fontSize":21.3,"fontWeight":"normal","color":"#111"},"width":389,"height":243,"view":{"stroke":null},"data":{"name":"pa"},"resolve":{"axis":{"x":"independent","y":"independent"}},"layer":[{"mark":{"type":"circle","size":27,"opacity":1},"encoding":{"x":{"field":"x","type":"quantitative","scale":{"domain":[-50,50],"range":[35,389],"nice":false},"axis":{"orient":"bottom","values":[-50,0,50],"labelExpr":"''+datum.value","title":"Feature1","grid":false,"tickSize":-4,"tickColor":"#222","domainColor":"#222","domainWidth":2,"labelPadding":13,"labelFont":"Liberation Sans","labelFontSize":15,"labelColor":"#333","titleFont":"Liberation Sans","titleFontSize":14.5,"titleFontWeight":"normal","titleColor":"#333","titlePadding":6,"labelFlush":false}},"y":{"field":"y","type":"quantitative","scale":{"domain":[-60,60],"nice":false},"axis":{"orient":"left","offset":-35,"values":[-60,-40,-20,0,20,40,60],"labelExpr":"''+datum.value","title":"Feature2","grid":false,"tickSize":-4,"tickColor":"#222","domainColor":"#222","domainWidth":2,"labelPadding":9,"labelFont":"Liberation Sans","labelFontSize":15,"labelColor":"#333","titleFont":"Liberation Sans","titleFontSize":14.5,"titleFontWeight":"normal","titleColor":"#333","titlePadding":4,"labelFlush":false}},"color":{"field":"k","type":"nominal","legend":null,"scale":{"domain":["P","Y","B","G","R"],"range":["#7b3389","#dfa70f","#0f67a3","#176b40","#c02a3b"]}}}},{"mark":{"type":"circle","opacity":0},"encoding":{"x":{"field":"x","type":"quantitative","scale":{"domain":[-50,50],"range":[35,389],"nice":false},"axis":{"orient":"top","values":[-50,0,50],"title":null,"labels":false,"grid":false,"tickSize":-4,"tickColor":"#222","domainColor":"#222","domainWidth":2}},"y":{"field":"y","type":"quantitative","scale":{"domain":[-60,60],"nice":false},"axis":{"orient":"right","values":[-60,-40,-20,0,20,40,60],"title":null,"labels":false,"grid":false,"tickSize":-4,"tickColor":"#222","domainColor":"#222","domainWidth":2}}}}]},
{"title":{"text":["(b)\u00a0\u00a0Visualization of our target-adaptive scheme extracted","features."],"orient":"bottom","anchor":"start","dx":-40,"offset":2,"font":"Liberation Serif","fontSize":21.4,"fontWeight":"normal","color":"#111","lineHeight":27},"width":390,"height":243,"view":{"stroke":null},"data":{"name":"pb"},"resolve":{"axis":{"x":"independent","y":"independent"}},"layer":[{"mark":{"type":"circle","size":27,"opacity":1},"encoding":{"x":{"field":"x","type":"quantitative","scale":{"domain":[-60,60],"range":[35,390],"nice":false},"axis":{"orient":"bottom","values":[-60,-40,-20,0,20,40,60],"labelExpr":"''+datum.value","title":"Feature1","grid":false,"tickSize":-4,"tickColor":"#555","domainColor":"#555","domainWidth":1.5,"labelPadding":13,"labelFont":"Liberation Sans","labelFontSize":15,"labelColor":"#444","titleFont":"Liberation Sans","titleFontSize":14.5,"titleFontWeight":"normal","titleColor":"#444","titlePadding":6,"labelFlush":false}},"y":{"field":"y","type":"quantitative","scale":{"domain":[-60,60],"nice":false},"axis":{"orient":"left","offset":-35,"values":[-60,-40,-20,0,20,40,60],"labelExpr":"''+datum.value","title":"Feature2","grid":false,"tickSize":-4,"tickColor":"#555","domainColor":"#555","domainWidth":1.5,"labelPadding":9,"labelFont":"Liberation Sans","labelFontSize":15,"labelColor":"#444","titleFont":"Liberation Sans","titleFontSize":14.5,"titleFontWeight":"normal","titleColor":"#444","titlePadding":4,"labelFlush":false}},"color":{"field":"k","type":"nominal","legend":null,"scale":{"domain":["P","Y","B","G","R"],"range":["#7b3389","#dfa70f","#0f67a3","#176b40","#c02a3b"]}}}},{"mark":{"type":"circle","opacity":0},"encoding":{"x":{"field":"x","type":"quantitative","scale":{"domain":[-60,60],"range":[35,390],"nice":false},"axis":{"orient":"top","values":[-60,-40,-20,0,20,40,60],"title":null,"labels":false,"grid":false,"tickSize":-4,"tickColor":"#555","domainColor":"#555","domainWidth":1.5}},"y":{"field":"y","type":"quantitative","scale":{"domain":[-60,60],"nice":false},"axis":{"orient":"right","values":[-60,-40,-20,0,20,40,60],"title":null,"labels":false,"grid":false,"tickSize":-4,"tickColor":"#555","domainColor":"#555","domainWidth":1.5}}}}]},
{"title":{"text":"(c)\u00a0\u00a0The accuracy based on CNN extracted features.","orient":"bottom","anchor":"start","dx":-21,"offset":9,"font":"Liberation Serif","fontSize":21.1,"fontWeight":"normal","color":"#111"},"width":387,"height":212,"view":{"stroke":"#000","strokeWidth":1.5},"data":{"name":"tc"},"resolve":{"scale":{"color":"independent"}},"encoding":{"x":{"field":"c","type":"nominal","axis":null,"scale":{"domain":["_","A","B","C","D","K"],"paddingInner":0.073,"paddingOuter":0}},"y":{"field":"r","type":"nominal","axis":null,"scale":{"domain":["_","A","B","C","D","K"],"paddingInner":0.14,"paddingOuter":0.03}}},"layer":[{"mark":{"type":"rect"},"encoding":{"color":{"field":"k","type":"nominal","legend":null,"scale":{"domain":["head","off","on"],"range":["#f2f2f2","#f2f2f2","#0038ab"]}}}},{"mark":{"type":"text","font":"Lato","fontSize":24,"dy":1},"encoding":{"text":{"field":"v"},"color":{"field":"k","type":"nominal","legend":null,"scale":{"domain":["head","off","on"],"range":["#000000","#ffffff","#ffffff"]}}}}]},
{"title":{"text":"(d)\u00a0\u00a0The accuracy based on our scheme extracted features.","orient":"bottom","anchor":"start","dx":-51,"offset":9,"font":"Liberation Serif","fontSize":21.4,"fontWeight":"normal","color":"#111"},"width":386,"height":212,"view":{"stroke":"#000","strokeWidth":1.5},"data":{"name":"td"},"resolve":{"scale":{"color":"independent"}},"encoding":{"x":{"field":"c","type":"nominal","axis":null,"scale":{"domain":["_","A","B","C","D","K"],"paddingInner":0.073,"paddingOuter":0}},"y":{"field":"r","type":"nominal","axis":null,"scale":{"domain":["_","A","B","C","D","K"],"paddingInner":0.14,"paddingOuter":0.03}}},"layer":[{"mark":{"type":"rect"},"encoding":{"color":{"field":"k","type":"nominal","legend":null,"scale":{"domain":["head","off","on"],"range":["#f2f2f2","#f2f2f2","#0038ab"]}}}},{"mark":{"type":"text","font":"Lato","fontSize":24,"dy":1},"encoding":{"text":{"field":"v"},"color":{"field":"k","type":"nominal","legend":null,"scale":{"domain":["head","off","on"],"range":["#000000","#ffffff","#ffffff"]}}}}]}
],"columns":2,"bounds":"flush","spacing":{"row":122,"column":111},"config":{"style":{"cell":{"stroke":null}}}}
